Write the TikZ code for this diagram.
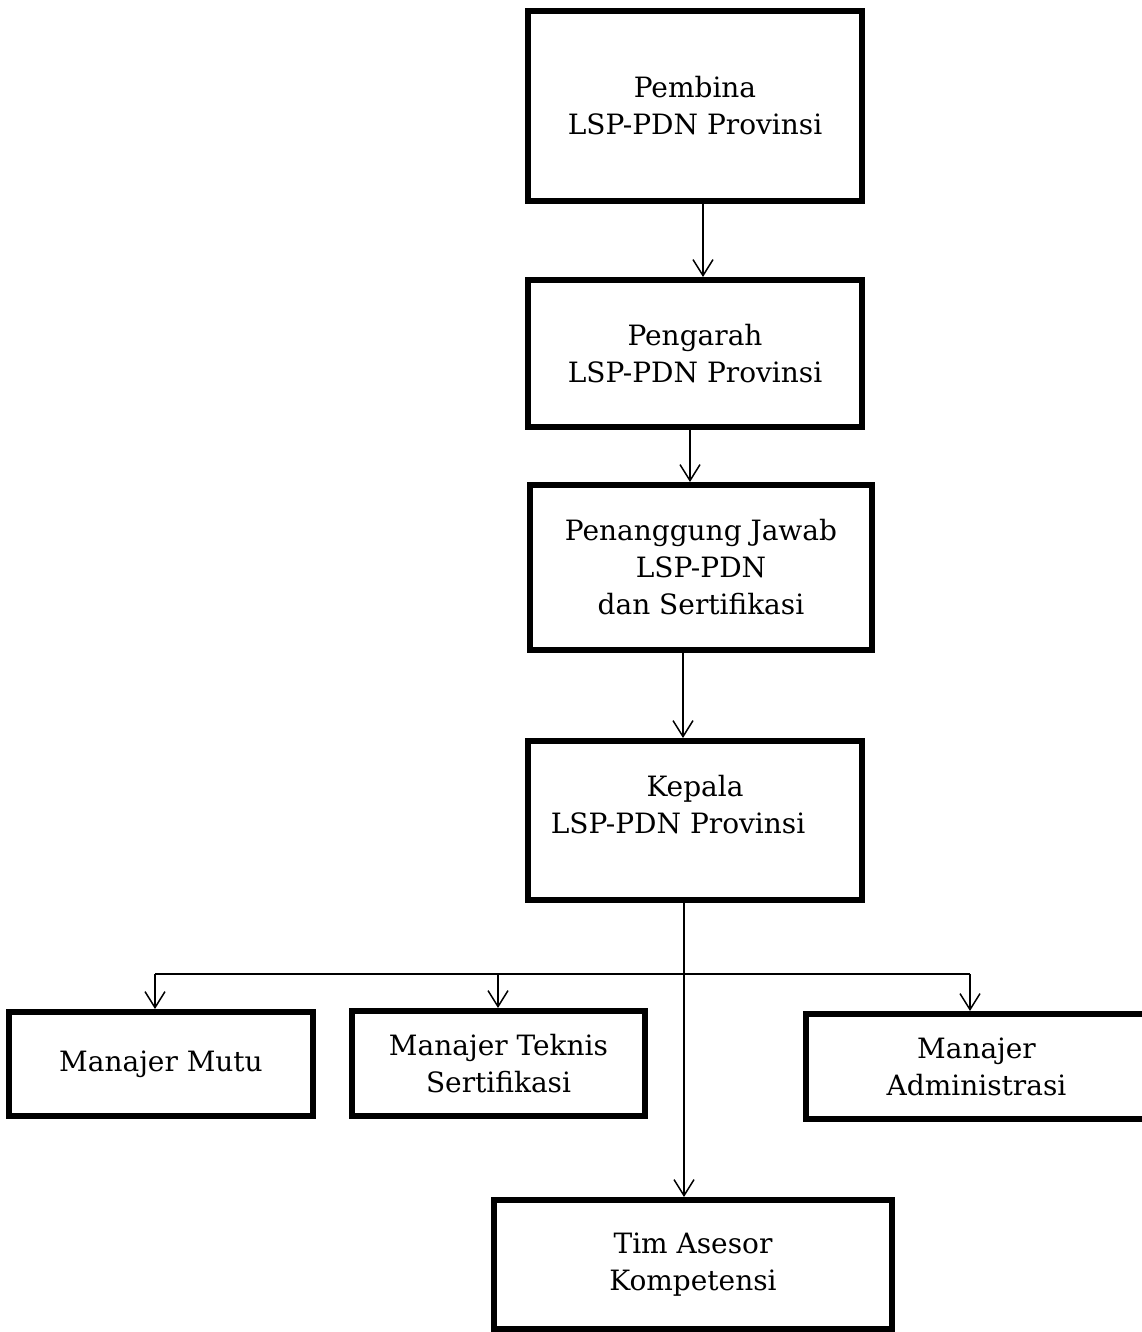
\documentclass[tikz,border=0pt]{standalone}
\usepackage{fontspec}
\setmainfont{DejaVu Serif}
\usetikzlibrary{arrows.meta}

\begin{document}
\begin{tikzpicture}[x=0.5pt, y=-0.5pt,
    font=\fontsize{14}{18.5}\selectfont,
    box/.style={draw, rectangle, line width=3pt, align=center, inner sep=0pt},
    link/.style={line width=0.75pt, -{Straight Barb[length=8pt, width=10pt]}}]
    \useasboundingbox (0,0) rectangle (1141,1332);
    % Struktur organisasi
    \node[box, minimum width=167pt, minimum height=95pt] (pembina) at (695,106) {Pembina\\LSP-PDN Provinsi};
    \node[box, minimum width=167pt, minimum height=73.5pt] (pengarah) at (695,353.5) {Pengarah\\LSP-PDN Provinsi};
    \node[box, minimum width=171pt, minimum height=82.5pt] (penanggung) at (701,567.5) {Penanggung Jawab\\LSP-PDN\\dan Sertifikasi};
    \node[box, minimum width=167pt, minimum height=79.5pt, text depth=16pt] (kepala) at (695,820.5) {Kepala\\LSP-PDN Provinsi\hspace*{17pt}};
    \node[box, minimum width=152pt, minimum height=52pt] (mutu) at (161,1064) {Manajer Mutu};
    \node[box, minimum width=146.5pt, minimum height=52.5pt] (teknis) at (498.5,1063.5) {Manajer Teknis\\Sertifikasi};
    \node[box, minimum width=170.5pt, minimum height=52.5pt] (admin) at (976.5,1066.5) {Manajer\\Administrasi};
    \node[box, minimum width=199pt, minimum height=64.5pt] (tim) at (693,1264.5) {Tim Asesor\\Kompetensi};

    % Garis komando
    \draw[link] ([xshift=4pt]pembina.south) -- ([xshift=4pt]pembina.south |- pengarah.north);
    \draw[link] ([xshift=-2.5pt]pengarah.south) -- ([xshift=-2.5pt]pengarah.south |- penanggung.north);
    \draw[link] ([xshift=-9pt]penanggung.south) -- ([xshift=-9pt]penanggung.south |- kepala.north);
    \coordinate (fork) at (684,974);
    \coordinate (forkmutu) at (155,974);
    \coordinate (forkteknis) at (498,974);
    \coordinate (forkadmin) at (970,974);
    \draw[link] (kepala.south -| fork) -- (tim.north -| fork);
    \draw[line width=0.75pt] (forkmutu) -- (forkadmin);
    \draw[link] (forkmutu) -- (forkmutu |- mutu.north);
    \draw[link] (forkteknis) -- (forkteknis |- teknis.north);
    \draw[link] (forkadmin) -- (forkadmin |- admin.north);
\end{tikzpicture}
\end{document}
